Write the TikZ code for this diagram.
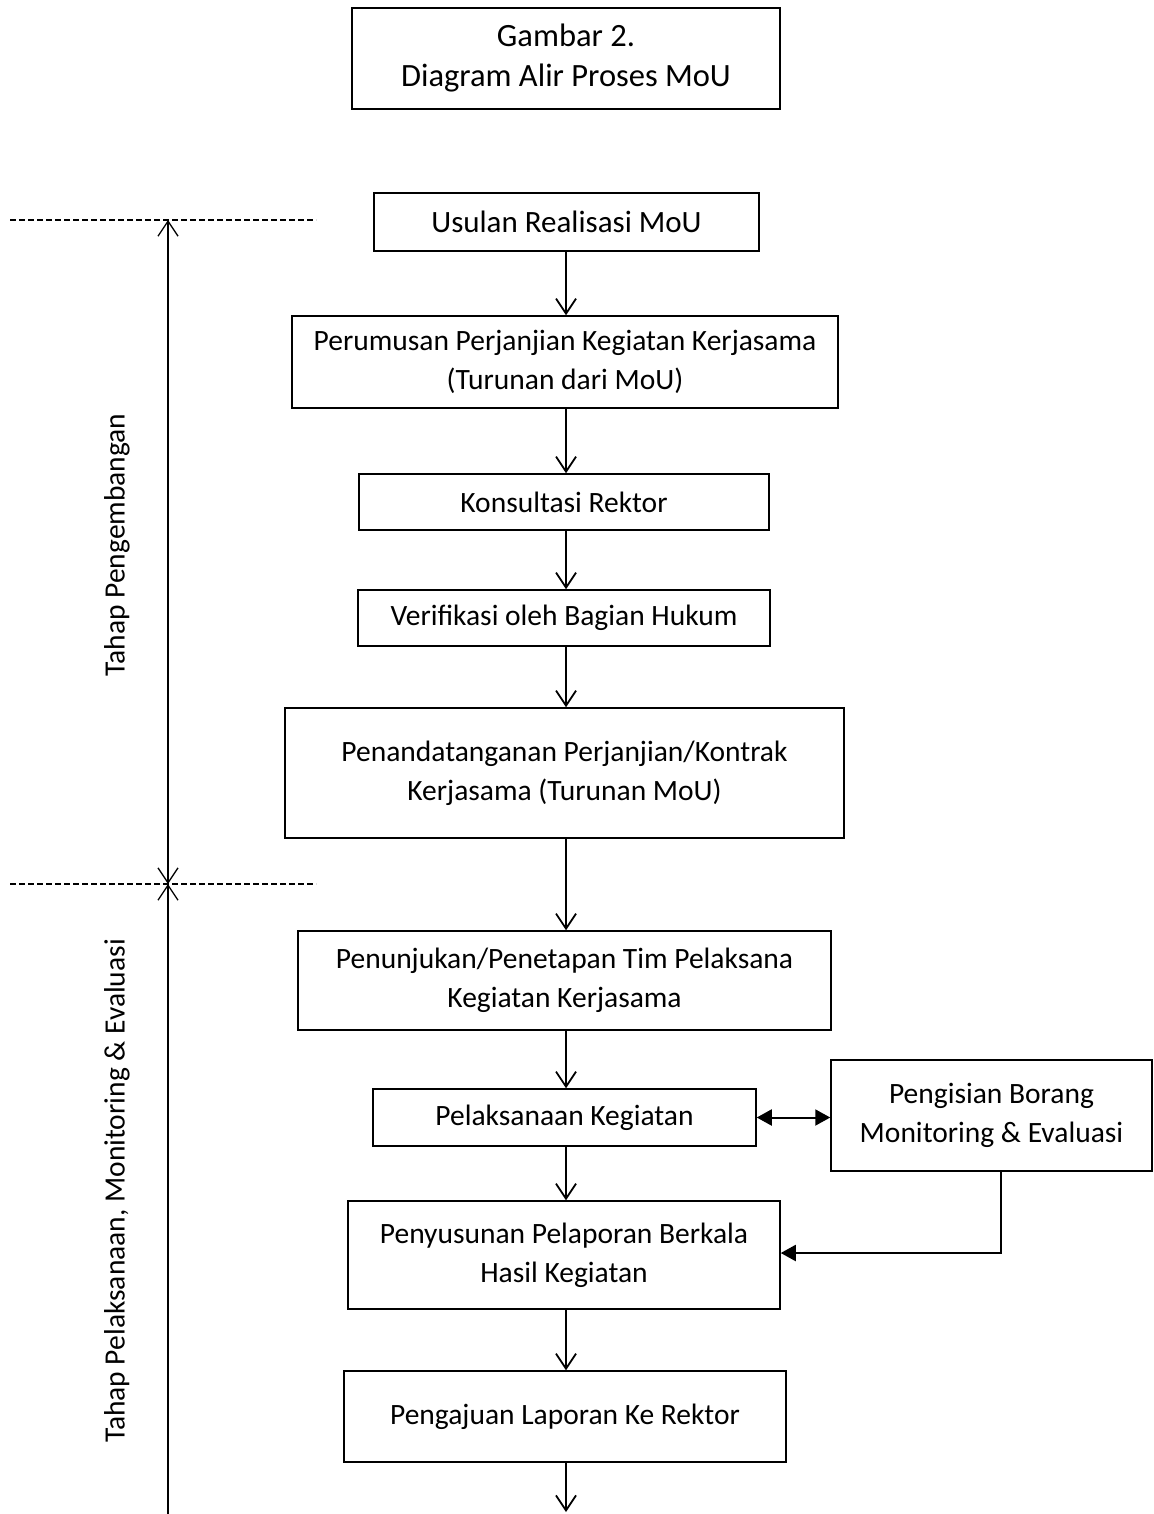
\documentclass[tikz,border=0pt]{standalone}
\usepackage{fontspec}
\setmainfont{Carlito}
\usetikzlibrary{arrows.meta}
\begin{document}
\begin{tikzpicture}[x=1pt,y=-1pt,
  box/.style={draw,line width=1.5pt,inner sep=0pt,align=center,font=\fontsize{29.5}{39}\selectfont},
  midbox/.style={box,font=\fontsize{31}{39}\selectfont},
  titlebox/.style={box,font=\fontsize{32.5}{40}\selectfont},
  flow/.style={line width=1.8pt,-{Straight Barb[length=15pt,width=20pt,line width=1.8pt]}},
  solid arr/.style={line width=2pt,-{Triangle[length=15pt,width=16pt]}},
  both arr/.style={line width=2pt,{Triangle[length=15pt,width=16pt]}-{Triangle[length=15pt,width=16pt]}},
  scale line/.style={line width=1.3pt},
  sepline/.style={line width=1.3pt,dash pattern=on 6pt off 3pt},
  side label/.style={rotate=90,font=\fontsize{29.5}{34}\selectfont}]
\useasboundingbox (0,0) rectangle (1153,1514);

\node[titlebox,minimum width=428pt,minimum height=101pt] (title) at (566,58.5) {Gambar 2.\\Diagram Alir Proses MoU};

\node[midbox,minimum width=385pt,minimum height=58pt] (b1) at (566.5,222) {Usulan Realisasi MoU};
\node[box,minimum width=546pt,minimum height=92pt] (b2) at (565,362) {Perumusan Perjanjian Kegiatan Kerjasama\\(Turunan dari MoU)};
\node[box,minimum width=410pt,minimum height=56pt] (b3) at (564,502) {Konsultasi Rektor};
\node[box,minimum width=412pt,minimum height=56pt] (b4) at (564,618) {Verifikasi oleh Bagian Hukum};
\node[box,minimum width=559pt,minimum height=130pt] (b5) at (564.5,773) {Penandatanganan Perjanjian/Kontrak\\Kerjasama (Turunan MoU)};
\node[box,minimum width=533pt,minimum height=99pt] (b6) at (564.5,980.5) {Penunjukan/Penetapan Tim Pelaksana\\Kegiatan Kerjasama};
\node[box,minimum width=383pt,minimum height=57pt] (b7) at (564.5,1117.5) {Pelaksanaan Kegiatan};
\node[box,minimum width=321pt,minimum height=111pt] (b8) at (991.5,1115.5) {Pengisian Borang\\Monitoring \& Evaluasi};
\node[box,minimum width=432pt,minimum height=108pt] (b9) at (564,1255) {Penyusunan Pelaporan Berkala\\Hasil Kegiatan};
\node[box,minimum width=442pt,minimum height=91pt] (b10) at (565,1416.5) {Pengajuan Laporan Ke Rektor};

\coordinate (ax) at (566,0);
\coordinate (end) at (566,1512);
\draw[flow] (b1.south -| ax) -- (b2.north -| ax);
\draw[flow] (b2.south -| ax) -- (b3.north -| ax);
\draw[flow] (b3.south -| ax) -- (b4.north -| ax);
\draw[flow] (b4.south -| ax) -- (b5.north -| ax);
\draw[flow] (b5.south -| ax) -- (b6.north -| ax);
\draw[flow] (b6.south -| ax) -- (b7.north -| ax);
\draw[flow] (b7.south -| ax) -- (b9.north -| ax);
\draw[flow] (b9.south -| ax) -- (b10.north -| ax);
\draw[flow] (b10.south -| ax) -- (end);

\draw[both arr] (b7.east) -- (b7.east -| b8.west);
\coordinate (elb) at (1001,1253);
\draw[solid arr] (b8.south -| elb) -- (elb) -- (elb -| b9.east);

\coordinate (d1l) at (10,220);
\coordinate (d1r) at (316,220);
\coordinate (d2l) at (10,884);
\coordinate (d2r) at (316,884);
\draw[sepline] (d1l) -- (d1r);
\draw[sepline] (d2l) -- (d2r);

\coordinate (v1) at (168,220);
\coordinate (v2) at (168,884);
\coordinate (v3) at (168,1514);
\draw[scale line,{Straight Barb[length=15pt,width=20pt,line width=1.3pt]}-{Straight Barb[length=15pt,width=20pt,line width=1.3pt]}] (v1) -- (v2);
\draw[scale line,{Straight Barb[length=15pt,width=20pt,line width=1.3pt]}-] (v2) -- (v3);

\node[side label] (lab1) at (117,545) {Tahap Pengembangan};
\node[side label] (lab2) at (117,1191) {Tahap Pelaksanaan, Monitoring \& Evaluasi};
\end{tikzpicture}
\end{document}
